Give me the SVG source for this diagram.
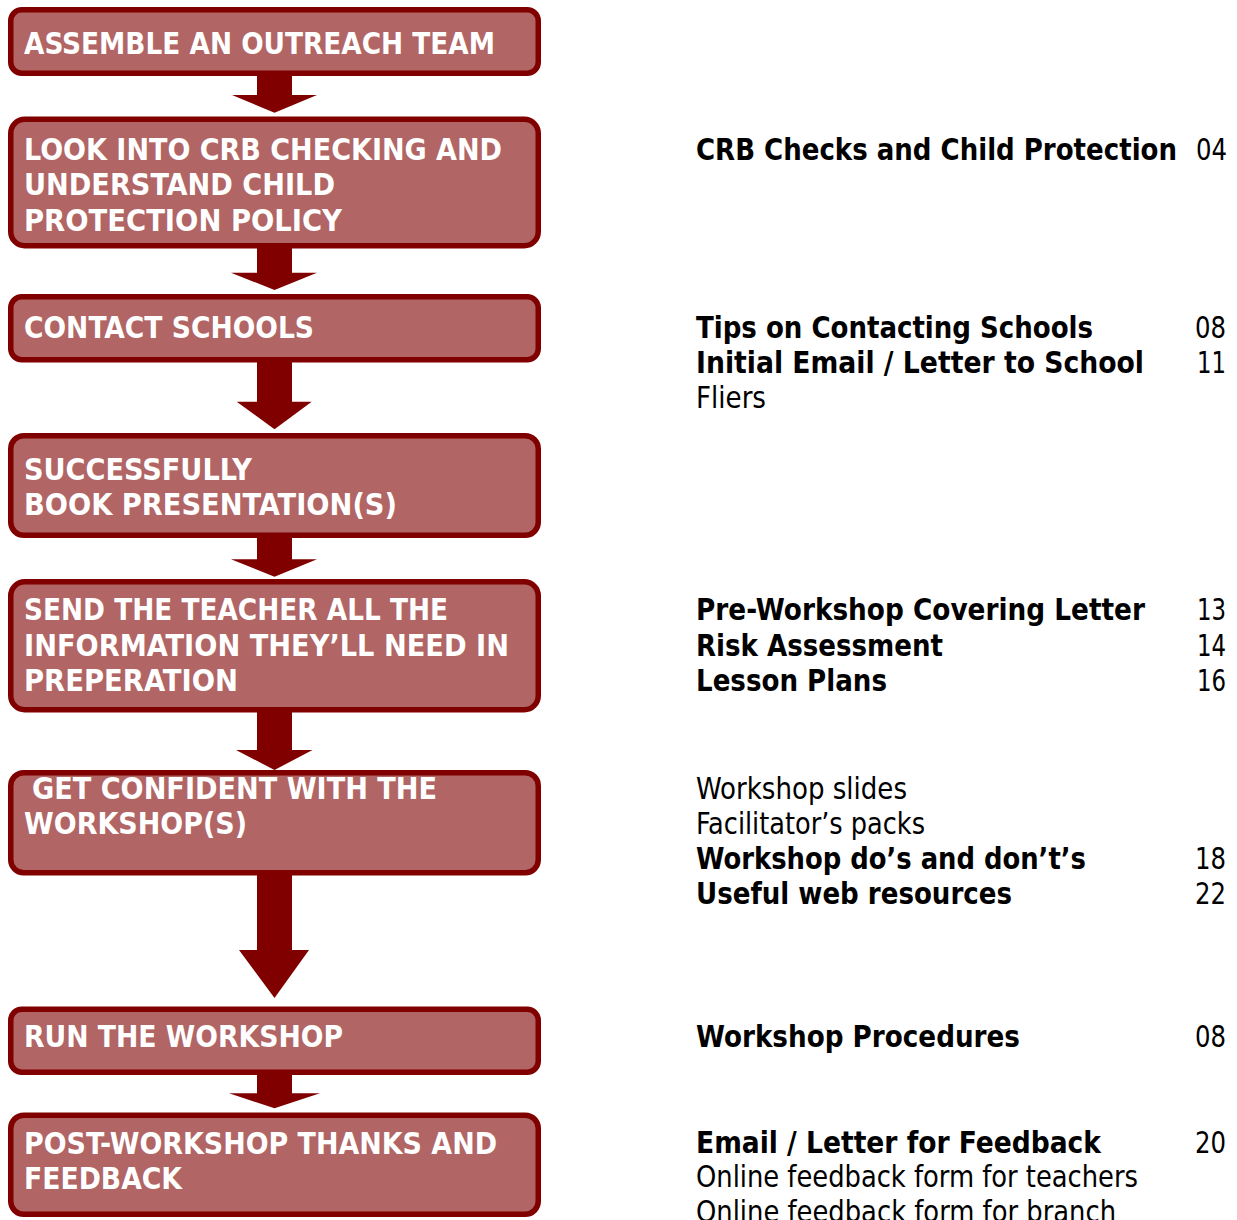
<svg xmlns="http://www.w3.org/2000/svg" width="1237" height="1220" viewBox="0 0 1237 1220">
<style>
.box{fill:#B16565;stroke:#800000;stroke-width:5.5}
.bt{font-family:"DejaVu Sans Condensed","DejaVu Sans","Liberation Sans",sans-serif;font-stretch:condensed;font-weight:bold;font-size:29.3px;fill:#FFFFFF}
.h{font-family:"DejaVu Sans Condensed","DejaVu Sans","Liberation Sans",sans-serif;font-stretch:condensed;font-weight:bold;font-size:29.3px;fill:#000000}
.r{font-family:"DejaVu Sans Condensed","DejaVu Sans","Liberation Sans",sans-serif;font-stretch:condensed;font-size:29.3px;fill:#000000}
.n{font-family:"DejaVu Sans Condensed","DejaVu Sans","Liberation Sans",sans-serif;font-stretch:condensed;font-size:29.3px;fill:#000000;text-anchor:end}
.arr{fill:#800000}
</style>
<rect width="1237" height="1220" fill="#FFFFFF"/>
<g id="connectors">
<path class="arr" d="M257,74 V95 H232 L274.5,112.7 L317,95 H292 V74 Z"/>
<path class="arr" d="M257,246 V272.7 H231 L274.5,290 L317,272.7 H292 V246 Z"/>
<path class="arr" d="M257,360 V401.7 H236.7 L274.5,429.3 L311.7,401.7 H292 V360 Z"/>
<path class="arr" d="M257,536 V559.3 H231 L274.5,576.7 L317,559.3 H292 V536 Z"/>
<path class="arr" d="M257,710 V750 H236 L274.5,770 L312.5,750 H292 V710 Z"/>
<path class="arr" d="M257,873 V950 H239 L274.5,998 L309,950 H292 V873 Z"/>
<path class="arr" d="M257,1073 V1093.3 H229 L274.5,1108.3 L320,1093.3 H292 V1073 Z"/>
</g>
<g id="node1">
<rect class="box" x="10.75" y="9.75" width="527.5" height="63.5" rx="11"/>
<text class="bt" x="24" y="53.5" textLength="471" lengthAdjust="spacingAndGlyphs">ASSEMBLE AN OUTREACH TEAM</text>
</g>
<g id="node2">
<rect class="box" x="10.75" y="119.25" width="527.5" height="126.5" rx="14"/>
<text class="bt" x="24" y="160" textLength="478" lengthAdjust="spacingAndGlyphs">LOOK INTO CRB CHECKING AND</text>
<text class="bt" x="24" y="195" textLength="311" lengthAdjust="spacingAndGlyphs">UNDERSTAND CHILD</text>
<text class="bt" x="24" y="230.5" textLength="318" lengthAdjust="spacingAndGlyphs">PROTECTION POLICY</text>
</g>
<g id="node3">
<rect class="box" x="10.75" y="296.75" width="527.5" height="63" rx="11"/>
<text class="bt" x="24" y="337.5" textLength="290" lengthAdjust="spacingAndGlyphs">CONTACT SCHOOLS</text>
</g>
<g id="node4">
<rect class="box" x="10.75" y="435.75" width="527.5" height="99.5" rx="13"/>
<text class="bt" x="24" y="480" textLength="228" lengthAdjust="spacingAndGlyphs">SUCCESSFULLY</text>
<text class="bt" x="24" y="515" textLength="373" lengthAdjust="spacingAndGlyphs">BOOK PRESENTATION(S)</text>
</g>
<g id="node5">
<rect class="box" x="10.75" y="581.75" width="527.5" height="128" rx="14"/>
<text class="bt" x="24" y="620" textLength="424" lengthAdjust="spacingAndGlyphs">SEND THE TEACHER ALL THE</text>
<text class="bt" x="24" y="655.5" textLength="485" lengthAdjust="spacingAndGlyphs">INFORMATION THEY’LL NEED IN</text>
<text class="bt" x="24" y="691" textLength="214" lengthAdjust="spacingAndGlyphs">PREPERATION</text>
</g>
<g id="node6">
<rect class="box" x="10.75" y="772.75" width="527.5" height="100" rx="13"/>
<text class="bt" x="32" y="798.5" textLength="405" lengthAdjust="spacingAndGlyphs">GET CONFIDENT WITH THE</text>
<text class="bt" x="24" y="833.5" textLength="223" lengthAdjust="spacingAndGlyphs">WORKSHOP(S)</text>
</g>
<g id="node7">
<rect class="box" x="10.75" y="1009.25" width="527.5" height="63" rx="11"/>
<text class="bt" x="24" y="1046.5" textLength="319" lengthAdjust="spacingAndGlyphs">RUN THE WORKSHOP</text>
</g>
<g id="node8">
<rect class="box" x="10.75" y="1115.25" width="527.5" height="99" rx="13"/>
<text class="bt" x="24" y="1153.5" textLength="473" lengthAdjust="spacingAndGlyphs">POST-WORKSHOP THANKS AND</text>
<text class="bt" x="24" y="1188.5" textLength="158" lengthAdjust="spacingAndGlyphs">FEEDBACK</text>
</g>
<g id="references">
<text class="h" x="696" y="160" textLength="481" lengthAdjust="spacingAndGlyphs">CRB Checks and Child Protection</text>
<text class="n" x="1227" y="160" textLength="31" lengthAdjust="spacingAndGlyphs">04</text>
<text class="h" x="696" y="337.5" textLength="397" lengthAdjust="spacingAndGlyphs">Tips on Contacting Schools</text>
<text class="n" x="1226" y="337.5" textLength="31" lengthAdjust="spacingAndGlyphs">08</text>
<text class="h" x="696" y="372.5" textLength="448" lengthAdjust="spacingAndGlyphs">Initial Email / Letter to School</text>
<text class="n" x="1226" y="372.5" textLength="29" lengthAdjust="spacingAndGlyphs">11</text>
<text class="r" x="696" y="408" textLength="70" lengthAdjust="spacingAndGlyphs">Fliers</text>
<text class="h" x="696" y="620" textLength="449" lengthAdjust="spacingAndGlyphs">Pre-Workshop Covering Letter</text>
<text class="n" x="1226" y="620" textLength="29" lengthAdjust="spacingAndGlyphs">13</text>
<text class="h" x="696" y="655.5" textLength="247" lengthAdjust="spacingAndGlyphs">Risk Assessment</text>
<text class="n" x="1226" y="655.5" textLength="29" lengthAdjust="spacingAndGlyphs">14</text>
<text class="h" x="696" y="691" textLength="191" lengthAdjust="spacingAndGlyphs">Lesson Plans</text>
<text class="n" x="1226" y="691" textLength="29" lengthAdjust="spacingAndGlyphs">16</text>
<text class="r" x="696" y="798.5" textLength="211" lengthAdjust="spacingAndGlyphs">Workshop slides</text>
<text class="r" x="696" y="833.5" textLength="229" lengthAdjust="spacingAndGlyphs">Facilitator’s packs</text>
<text class="h" x="696" y="869" textLength="390" lengthAdjust="spacingAndGlyphs">Workshop do’s and don’t’s</text>
<text class="n" x="1226" y="869" textLength="31" lengthAdjust="spacingAndGlyphs">18</text>
<text class="h" x="696" y="904" textLength="316" lengthAdjust="spacingAndGlyphs">Useful web resources</text>
<text class="n" x="1226" y="904" textLength="31" lengthAdjust="spacingAndGlyphs">22</text>
<text class="h" x="696" y="1046.5" textLength="324" lengthAdjust="spacingAndGlyphs">Workshop Procedures</text>
<text class="n" x="1226" y="1046.5" textLength="31" lengthAdjust="spacingAndGlyphs">08</text>
<text class="h" x="696" y="1152.5" textLength="405" lengthAdjust="spacingAndGlyphs">Email / Letter for Feedback</text>
<text class="n" x="1226" y="1152.5" textLength="31" lengthAdjust="spacingAndGlyphs">20</text>
<text class="r" x="696" y="1187" textLength="442" lengthAdjust="spacingAndGlyphs">Online feedback form for teachers</text>
<text class="r" x="696" y="1222" textLength="420" lengthAdjust="spacingAndGlyphs">Online feedback form for branch</text>
</g>
</svg>
